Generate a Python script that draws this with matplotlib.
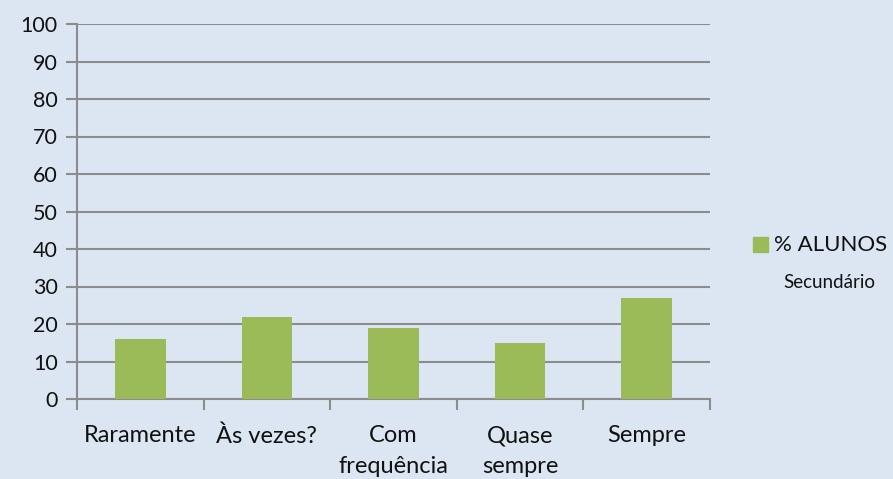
import matplotlib.pyplot as plt
import numpy as np

categories = ["Raramente", "Às vezes?", "Com\nfrequência", "Quase\nsempre", "Sempre"]
values = [16, 22, 19, 15, 27]
yticks = list(range(0, 101, 10))

bg = "#dce6f2"
bar_color = "#9bbb59"
grid_color = "#8c8c8c"

plt.rcParams['font.family'] = ['Lato', 'DejaVu Sans']

fig = plt.figure(figsize=(8.93, 4.79), dpi=100, facecolor=bg)
ax = fig.add_axes([77 / 893, 1 - 399 / 479, (710 - 77) / 893, (399 - 24) / 479])
ax.set_facecolor(bg)

x = np.arange(len(categories))
ax.bar(x, values, width=0.4, color=bar_color, zorder=3)

ax.set_xlim(-0.5, len(categories) - 0.5)
ax.set_ylim(0, 100)
ax.set_yticks(yticks)
ax.yaxis.grid(True, color=grid_color, linewidth=1.5, zorder=1)
ax.tick_params(axis='y', length=8, width=1.5, color=grid_color, labelsize=15.5,
               labelcolor='#111111', pad=6)

ax.set_xticks(x)
ax.set_xticklabels(categories, fontsize=17, linespacing=1.55, color='#111111')
ax.set_xticks(np.arange(len(categories) + 1) - 0.5, minor=True)
ax.tick_params(axis='x', which='major', length=0, pad=19)
ax.tick_params(axis='x', which='minor', length=8, width=1.5, color=grid_color)

for side in ['top', 'right']:
    ax.spines[side].set_visible(False)
for side in ['left', 'bottom']:
    ax.spines[side].set_color(grid_color)
    ax.spines[side].set_linewidth(1.5)

# legend
fig.patches.append(plt.Rectangle((753 / 893, 1 - 252 / 479), 15 / 893, 15 / 479,
                                 transform=fig.transFigure, color=bar_color))
fig.text(774 / 893, 1 - 245 / 479, "% ALUNOS", fontsize=16, va='center', ha='left', color='#111111')
fig.text(829 / 893, 1 - 283 / 479, "Secundário", fontsize=13.5, va='center', ha='center', color='#111111')

fig.savefig("out.png", dpi=100, facecolor=bg)
